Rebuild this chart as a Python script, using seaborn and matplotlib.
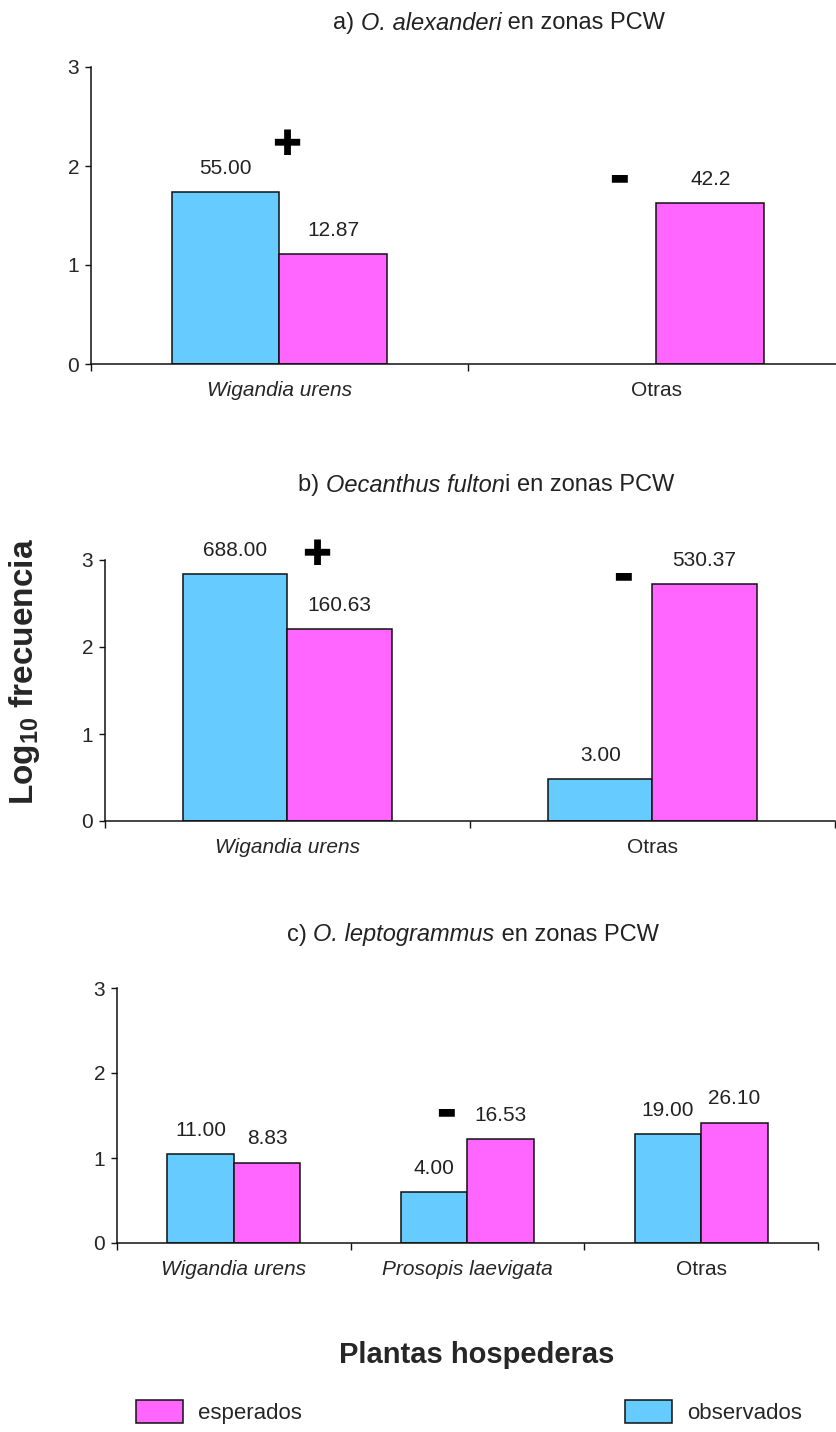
import numpy as np
import pandas as pd
import matplotlib
matplotlib.use("Agg")
import matplotlib.pyplot as plt
from matplotlib.patches import Patch
from matplotlib.text import Annotation
import seaborn as sns

# ---- data: counts per host plant (labels as printed), bars are log10 of them ----
series = ["observados", "esperados"]

cats_a = ["Wigandia urens", "Otras"]
obs_a = ["55.00", None]
exp_a = ["12.87", "42.2"]

cats_b = ["Wigandia urens", "Otras"]
obs_b = ["688.00", "3.00"]
exp_b = ["160.63", "530.37"]

cats_c = ["Wigandia urens", "Prosopis laevigata", "Otras"]
obs_c = ["11.00", "4.00", "19.00"]
exp_c = ["8.83", "16.53", "26.10"]

italic_cats = {"Wigandia urens", "Prosopis laevigata"}

# panel titles as (text, italic) pieces
titles = [
    [("a) ", False), ("O. alexanderi", True), (" en zonas PCW", False)],
    [("b) ", False), ("Oecanthus fulton", True), ("i en zonas PCW", False)],
    [("c) ", False), ("O. leptogrammus", True), (" en zonas PCW", False)],
]

# significance signs: (symbol, category position, log10 height)
signs_a = [("+", 0.02, 2.21), ("-", 0.90, 1.89)]
signs_b = [("+", 0.08, 3.06), ("-", 0.92, 2.82)]
signs_c = [("-", 0.91, 1.55)]

colors = {"observados": "#66CCFF", "esperados": "#FF66FF"}

# ---- style ----
sns.set_theme(style="white")
plt.rcParams["font.family"] = ["Liberation Sans", "DejaVu Sans"]
plt.rcParams["mathtext.fontset"] = "custom"
plt.rcParams["mathtext.rm"] = "Liberation Sans"
plt.rcParams["mathtext.it"] = "Liberation Sans:italic"
plt.rcParams["mathtext.bf"] = "Liberation Sans:bold"

W, H = 837, 1432
fig = plt.figure(figsize=(W / 100, H / 100), dpi=100)


def px_axes(left, right, top, bottom):
    return fig.add_axes([left / W, 1 - bottom / H, (right - left) / W, (bottom - top) / H])


def build_frame(cats, obs, exp):
    rows = []
    for cat, o, e in zip(cats, obs, exp):
        for serie, lab in (("observados", o), ("esperados", e)):
            if lab is not None:
                rows.append({"planta": cat, "serie": serie, "etiqueta": lab,
                             "log": np.log10(float(lab))})
    return pd.DataFrame(rows)


def mixed_title(pieces, left_px, y_px, size=17):
    """Chain text pieces left to right, each starting where the last ends."""
    prev = None
    for txt, ital in pieces:
        style = "italic" if ital else "normal"
        if prev is None:
            prev = fig.text(left_px / W, 1 - y_px / H, txt, ha="left",
                            va="center", fontsize=size, fontstyle=style,
                            color="#222222")
        else:
            prev = fig.add_artist(
                Annotation(txt, xy=(1, 0.5), xycoords=prev, ha="left",
                           va="center", fontsize=size, fontstyle=style,
                           color="#222222"))


panels = [
    (cats_a, obs_a, exp_a, signs_a, (91, 845, 67, 364), (333, 23)),
    (cats_b, obs_b, exp_b, signs_b, (105, 835, 560, 821), (298, 485)),
    (cats_c, obs_c, exp_c, signs_c, (117, 818, 988, 1243), (287, 935)),
]

for (cats, obs, exp, signs, box, tpos), title in zip(panels, titles):
    ax = px_axes(*box)
    df = build_frame(cats, obs, exp)
    sns.barplot(data=df, x="planta", y="log", hue="serie", order=cats,
                hue_order=series, palette=colors, width=0.57, saturation=1,
                edgecolor="#111111", linewidth=1.1, errorbar=None,
                legend=False, ax=ax)
    n = len(cats)
    ax.set_xlim(-0.5, n - 0.5)
    ax.set_ylim(0, 3)
    ax.set_yticks([0, 1, 2, 3])
    ax.set_yticklabels(["0", "1", "2", "3"], fontsize=15)
    ax.set_xticks(np.arange(n + 1) - 0.5)
    ax.set_xticklabels([])
    ax.set_xticks(np.arange(n), minor=True)
    ax.set_xticklabels(cats, minor=True, fontsize=15)
    for lab in ax.get_xticklabels(minor=True):
        if lab.get_text() in italic_cats:
            lab.set_fontstyle("italic")
    ax.tick_params(axis="x", which="major", length=5, width=1, direction="out",
                   color="#111111", bottom=True)
    ax.tick_params(axis="x", which="minor", length=0, pad=12, bottom=True)
    ax.tick_params(axis="y", length=4.5, width=1, direction="out", pad=4,
                   color="#111111", left=True)
    ax.set_xlabel("")
    ax.set_ylabel("")
    for side in ("top", "right"):
        ax.spines[side].set_visible(False)
    for side in ("left", "bottom"):
        ax.spines[side].set_color("#111111")
        ax.spines[side].set_linewidth(1.1)

    # value labels above each bar
    for hi, cont in enumerate(ax.containers):
        serie = series[hi]
        for patch in cont:
            h = patch.get_height()
            if not np.isfinite(h):
                continue
            cx = patch.get_x() + patch.get_width() / 2
            cat = cats[int(round(cx))]
            lab = df[(df.planta == cat) & (df.serie == serie)].etiqueta.iloc[0]
            ax.annotate(lab, (cx, h), xytext=(0, 17), textcoords="offset points",
                        ha="center", va="center", fontsize=15, color="#222222")

    for sym, sx, sy in signs:
        if sym == "+":
            ax.text(sx, sy, "\u271a", fontsize=25, family="DejaVu Sans",
                    ha="center", va="center", color="black")
        else:
            ax.text(sx, sy, "\u25ac", fontsize=15, family="DejaVu Sans",
                    ha="center", va="center", color="black")

    mixed_title(title, *tpos)

# shared axis titles
fig.text(25 / W, 1 - 672 / H, r"$\mathbf{Log_{10}}$ frecuencia", rotation=90,
         ha="center", va="center", fontsize=24, fontweight="bold")
fig.text(477 / W, 1 - 1355 / H, "Plantas hospederas", ha="center", va="center",
         fontsize=21, fontweight="bold")

# legend entries at the bottom
for serie, xpos in (("esperados", 136), ("observados", 625)):
    fig.legend(handles=[Patch(facecolor=colors[serie], edgecolor="#111111",
                              linewidth=1.1, label=serie)],
               loc="center left", bbox_to_anchor=(xpos / W, 1 - 1412 / H),
               frameon=False, fontsize=16, handlelength=2.1, handleheight=1.2,
               handletextpad=0.7, borderpad=0, borderaxespad=0)

fig.savefig("out.png", dpi=100)
